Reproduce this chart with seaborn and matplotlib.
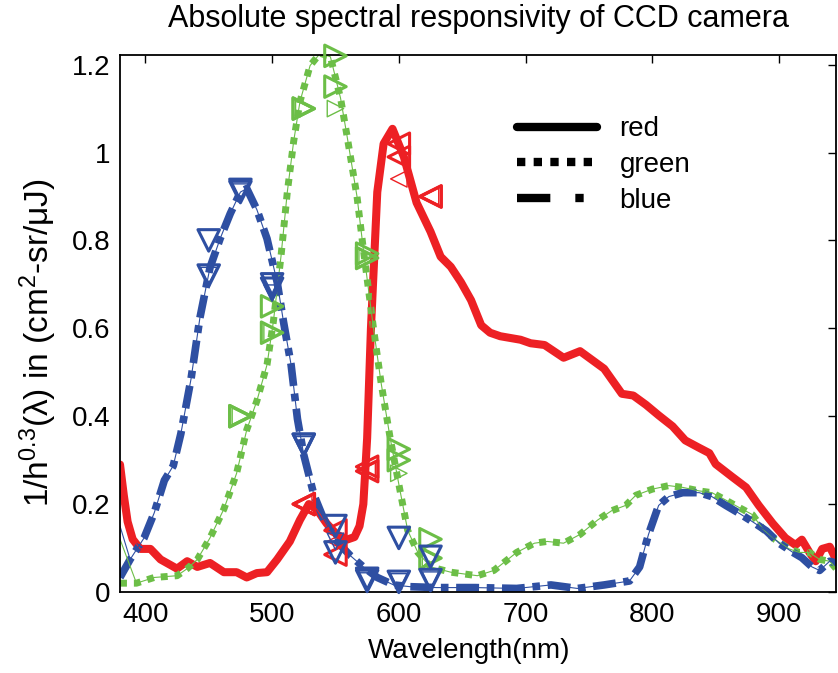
import matplotlib
matplotlib.use("Agg")
import matplotlib.pyplot as plt
import seaborn as sns
from matplotlib.lines import Line2D

# Thick curves
red_wl = [380, 383, 386, 390, 396, 404, 412, 425, 433, 441, 451, 462, 472, 480, 488,
          496, 504, 514, 522, 529, 535, 543, 551, 559, 565, 569, 572, 575, 578, 583,
          588, 595, 604, 614, 625, 633, 641, 649, 657, 665, 672, 680, 688, 696, 704,
          715, 730, 743, 762, 776, 785, 795, 805, 816, 826, 837, 845, 850, 863, 874,
          884, 895, 905, 913, 918, 924, 929, 934, 940, 945]
red_val = [0.29, 0.22, 0.16, 0.12, 0.098, 0.098, 0.074, 0.053, 0.07, 0.057, 0.066, 0.045, 0.045, 0.033, 0.043,
           0.045, 0.074, 0.115, 0.164, 0.2, 0.189, 0.156, 0.131, 0.119, 0.125, 0.15, 0.2, 0.35, 0.6, 0.91,
           1.02, 1.054, 0.99, 0.886, 0.82, 0.763, 0.74, 0.705, 0.664, 0.607, 0.59, 0.582, 0.578, 0.574, 0.566,
           0.562, 0.533, 0.548, 0.508, 0.451, 0.447, 0.426, 0.402, 0.377, 0.345, 0.328, 0.316, 0.291, 0.262, 0.238,
           0.197, 0.156, 0.123, 0.107, 0.119, 0.09, 0.07, 0.098, 0.103, 0.074]

green_wl = [380, 393, 407, 425, 433, 441, 451, 462, 472, 480, 488, 496, 501, 507, 512,
            517, 522, 530, 538, 546, 554, 559, 567, 572, 580, 586, 593, 601, 607, 615,
            625, 641, 662, 675, 693, 707, 717, 730, 743, 757, 768, 779, 787, 800, 813,
            824, 837, 847, 858, 868, 879, 887, 897, 908, 916, 924, 932, 940, 945]
green_val = [0.02, 0.02, 0.033, 0.037, 0.053, 0.074, 0.123, 0.189, 0.27, 0.369, 0.435, 0.517, 0.615, 0.763, 0.91,
             1.025, 1.116, 1.198, 1.226, 1.218, 1.124, 1.04, 0.9, 0.78, 0.6, 0.476, 0.353, 0.23, 0.14, 0.09,
             0.057, 0.045, 0.037, 0.049, 0.09, 0.111, 0.115, 0.111, 0.131, 0.164, 0.185, 0.197, 0.22, 0.234, 0.242,
             0.238, 0.23, 0.226, 0.209, 0.193, 0.176, 0.144, 0.119, 0.098, 0.09, 0.09, 0.074, 0.07, 0.053]

blue_wl = [380, 388, 399, 407, 415, 422, 428, 436, 443, 451, 459, 467, 475, 480, 488,
           496, 504, 509, 515, 520, 525, 533, 541, 551, 562, 572, 583, 596, 609, 630,
           660, 693, 720, 741, 762, 782, 790, 797, 805, 813, 824, 837, 847, 858, 868,
           879, 890, 900, 911, 918, 926, 932, 940, 945]
blue_val = [0.033, 0.074, 0.123, 0.18, 0.254, 0.287, 0.36, 0.484, 0.623, 0.738, 0.804, 0.861, 0.91, 0.918, 0.87,
            0.804, 0.705, 0.615, 0.517, 0.394, 0.312, 0.221, 0.164, 0.115, 0.082, 0.057, 0.033, 0.016, 0.012, 0.01,
            0.01, 0.008, 0.016, 0.008, 0.016, 0.025, 0.057, 0.131, 0.197, 0.217, 0.226, 0.226, 0.217, 0.197, 0.18,
            0.16, 0.139, 0.111, 0.09, 0.078, 0.057, 0.049, 0.07, 0.066]

# thin companion lines start a bit higher at the left edge
green_thin_start = 0.12
blue_thin_start = 0.15

# triangle markers every 25 nm (three overlapping sets)
red_mk_wl = [525, 550, 575, 600, 625]
red_mk_a = [0.20, 0.14, 0.285, 1.02, 0.90]
red_mk_b = [0.20, 0.085, 0.275, 0.99, 0.90]
red_mk_c = [0.20, 0.115, 0.275, 0.94, 0.90]

green_mk_wl = [475, 500, 525, 550, 575, 600, 625]
green_mk_a = [0.40, 0.65, 1.10, 1.22, 0.77, 0.325, 0.12]
green_mk_b = [0.40, 0.59, 1.10, 1.15, 0.76, 0.30, 0.077]
green_mk_c = [0.40, 0.59, 1.10, 1.10, 0.76, 0.27, 0.077]

blue_mk_wl = [450, 475, 500, 525, 550, 575, 600, 625]
blue_mk_a = [0.80, 0.915, 0.70, 0.335, 0.15, 0.03, 0.123, 0.08]
blue_mk_b = [0.72, 0.91, 0.69, 0.335, 0.09, 0.025, 0.023, 0.027]
blue_mk_c = [0.72, 0.91, 0.68, 0.335, 0.115, 0.025, 0.023, 0.027]

c_red = '#ED2024'
c_green = '#6CBE47'
c_blue = '#2E4FA2'

sns.set_style('white')
plt.rcParams['font.family'] = ['Liberation Sans', 'DejaVu Sans']
plt.rcParams['mathtext.fontset'] = 'custom'
plt.rcParams['mathtext.rm'] = 'Liberation Sans'
plt.rcParams['mathtext.it'] = 'Liberation Sans'
for k in ['text.color', 'axes.labelcolor', 'xtick.color', 'ytick.color', 'axes.edgecolor']:
    plt.rcParams[k] = 'black'

fig = plt.figure(figsize=(8.38, 6.73), dpi=100)
ax = fig.add_axes([0.1432, 0.1204, 0.8545, 0.7979])

# thick lines
sns.lineplot(x=red_wl, y=red_val, color=c_red, lw=5.8, ax=ax, estimator=None,
             solid_joinstyle='round')
sns.lineplot(x=green_wl, y=green_val, color=c_green, lw=5, ax=ax, estimator=None,
             linestyle=(0, (1, 1)))
sns.lineplot(x=blue_wl, y=blue_val, color=c_blue, lw=5.5, ax=ax, estimator=None,
             linestyle=(0, (3, 1, 1, 1)))

# thin companion lines
sns.lineplot(x=red_wl, y=red_val, color=c_red, lw=0.8, ax=ax, estimator=None)
sns.lineplot(x=green_wl, y=[green_thin_start] + green_val[1:], color=c_green, lw=0.8, ax=ax, estimator=None)
sns.lineplot(x=blue_wl, y=[blue_thin_start] + blue_val[1:], color=c_blue, lw=0.8, ax=ax, estimator=None)

# open triangle markers
for wl, sets, mk, col in [(red_mk_wl, [red_mk_a, red_mk_b, red_mk_c], '<', c_red),
                          (green_mk_wl, [green_mk_a, green_mk_b, green_mk_c], '>', c_green),
                          (blue_mk_wl, [blue_mk_a, blue_mk_b, blue_mk_c], 'v', c_blue)]:
    for i, vals in enumerate(sets):
        sns.scatterplot(x=wl, y=vals, marker=mk, s=240 if i < 2 else 140,
                        facecolor='none', edgecolor=col, clip_on=False,
                        linewidth=2.2 if i < 2 else 1.0, ax=ax, zorder=4)

ax.set_xlim(380, 945)
ax.set_ylim(0, 1.222)
ax.set_xticks([400, 500, 600, 700, 800, 900])
ax.set_yticks([0, 0.2, 0.4, 0.6, 0.8, 1.0, 1.2])
ax.set_yticklabels(['0', '0.2', '0.4', '0.6', '0.8', '1', '1.2'])
ax.tick_params(direction='in', length=6, width=1, labelsize=20, top=True, right=True,
               pad=7, colors='black')
for s in ax.spines.values():
    s.set_visible(True)
    s.set_color('black')
    s.set_linewidth(1.3)

ax.set_title('Absolute spectral responsivity of CCD camera', fontsize=22, pad=20)
ax.set_xlabel('Wavelength(nm)', fontsize=20)
ax.set_ylabel(r'1/h$^{0.3}$($\lambda$) in (cm$^2$-sr/$\mu$J)', fontsize=24)
ax.xaxis.set_label_coords(0.487, -0.085)
ax.yaxis.set_label_coords(-0.085, 0.464)

handles = [Line2D([], [], color='black', lw=6, ls='-'),
           Line2D([], [], color='black', lw=6, ls=(0, (1, 1))),
           Line2D([], [], color='black', lw=6, ls=(0, (4, 3, 1, 3)))]
ax.legend(handles, ['red', 'green', 'blue'], loc='upper left', bbox_to_anchor=(0.519, 0.932),
          frameon=False, fontsize=20, handlelength=2.9, handletextpad=0.8, labelspacing=0.35)

fig.savefig('out.png', dpi=100)
